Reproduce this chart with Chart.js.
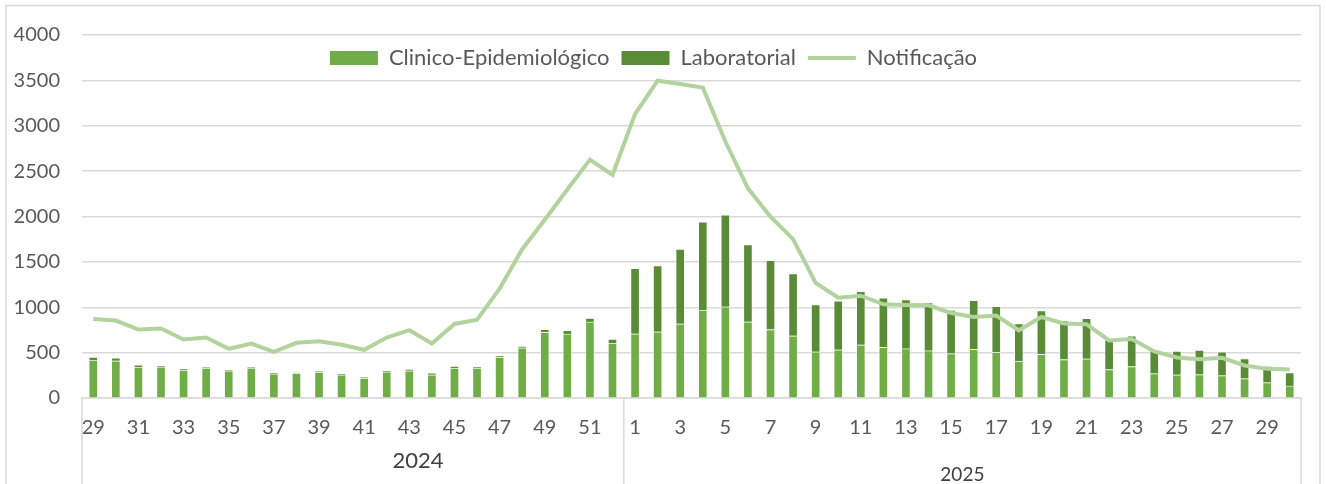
<!DOCTYPE html>
<html>
<head>
<meta charset="utf-8">
<script src="https://cdn.jsdelivr.net/npm/chart.js@4.4.1/dist/chart.umd.min.js"></script>
<style>
  body { margin: 0; background: #fff; }
  #wrap { position: relative; width: 1326px; height: 484px; }
</style>
</head>
<body>
<div id="wrap"><canvas id="grafico"></canvas></div>
<script>
// semanas epidemiologicas: 2024 (29 a 52) e 2025 (1 a 30)
const semanas = [29, 30, 31, 32, 33, 34, 35, 36, 37, 38, 39, 40, 41, 42, 43, 44, 45, 46, 47, 48, 49, 50, 51, 52,
  1, 2, 3, 4, 5, 6, 7, 8, 9, 10, 11, 12, 13, 14, 15, 16, 17, 18, 19, 20, 21, 22, 23, 24, 25, 26, 27, 28, 29, 30];
const anos = ['2024', '2025'];

// casos confirmados por criterio
const clinico = [417, 410, 340, 344, 307, 329, 300, 326, 267, 271, 282, 256, 220, 289, 300, 256, 329, 329, 447, 553, 725, 706, 838, 604,
  708, 730, 818, 965, 1006, 840, 755, 685, 510, 532, 587, 559, 544, 522, 489, 537, 504, 408, 482, 424, 432, 314, 347, 269, 255, 258, 247, 214, 170, 133];
const laboratorial = [33, 33, 26, 11, 11, 8, 7, 11, 11, 7, 14, 8, 7, 11, 18, 19, 22, 11, 18, 18, 33, 41, 44, 46,
  722, 729, 822, 977, 1013, 851, 763, 686, 519, 538, 589, 544, 540, 529, 481, 540, 507, 412, 481, 429, 446, 324, 339, 262, 262, 270, 262, 221, 181, 147];

// casos notificados
const notificacao = [870, 853, 754, 765, 644, 666, 542, 600, 509, 608, 626, 586, 531, 666, 747, 600, 816, 864, 1204, 1640, 1965, 2297, 2627, 2458,
  3129, 3497, 3460, 3420, 2826, 2310, 1997, 1750, 1268, 1106, 1127, 1033, 1025, 1022, 937, 893, 908, 746, 893, 822, 812, 635, 649, 513, 446, 428, 443, 358, 321, 314];

const yMax = 4000;
const yStep = 500;

const fonte = 'Lato';
const cinza = '#595959';

// a legenda fica por cima da area do grafico (como no Excel):
// ocupa altura zero no layout e recupera a altura real depois
const legendaSobre = {
  id: 'legendaSobre',
  beforeLayout(chart) {
    const lg = chart.legend;
    if (lg && !lg._fitOriginal) {
      lg._fitOriginal = lg.fit;
      lg.fit = function () {
        this._fitOriginal();
        this._alturaReal = this.height;
        this.height = 0;
      };
    }
  },
  afterLayout(chart) {
    const lg = chart.legend;
    if (lg && lg._alturaReal) {
      lg.height = lg._alturaReal;
      lg.bottom = lg.top + lg.height;
    }
  }
};

// linhas que separam os anos no eixo x, rotulos dos anos e moldura
const grupos = {
  id: 'grupos',
  afterDraw(chart) {
    const { ctx, chartArea, scales: { x } } = chart;
    const inicio2025 = semanas.indexOf(1);
    const meio = (x.getPixelForValue(inicio2025 - 1) + x.getPixelForValue(inicio2025)) / 2;
    ctx.save();
    ctx.strokeStyle = '#d9d9d9';
    ctx.lineWidth = 1.5;
    [chartArea.left, meio, chartArea.right].forEach(px => {
      ctx.beginPath();
      ctx.moveTo(px, chartArea.bottom);
      ctx.lineTo(px, chart.height);
      ctx.stroke();
    });
    ctx.strokeRect(6, 5.5, 1314, chart.height);

    ctx.fillStyle = '#404040';
    ctx.textAlign = 'center';
    ctx.textBaseline = 'middle';
    ctx.font = '22px ' + fonte;
    ctx.fillText(anos[0], chartArea.left + (meio - chartArea.left) * 0.62, 461);
    ctx.font = '19px ' + fonte;
    ctx.fillText(anos[1], (meio + chartArea.right) / 2, 475);
    ctx.restore();
  }
};

new Chart(document.getElementById('grafico'), {
  data: {
    labels: semanas,
    datasets: [
      {
        type: 'bar',
        label: 'Clinico-Epidemiológico',
        data: clinico,
        backgroundColor: '#70ad47',
        borderColor: 'rgba(255,255,255,0.45)',
        borderWidth: 1,
        barThickness: 9,
        stack: 'casos',
        order: 1
      },
      {
        type: 'bar',
        label: 'Laboratorial',
        data: laboratorial,
        backgroundColor: '#5a8b37',
        borderColor: 'rgba(255,255,255,0.45)',
        borderWidth: 1,
        barThickness: 9,
        stack: 'casos',
        order: 1
      },
      {
        type: 'line',
        label: 'Notificação',
        data: notificacao,
        borderColor: '#b2d39d',
        backgroundColor: '#b2d39d',
        borderWidth: 4,
        pointRadius: 0,
        tension: 0,
        stack: 'notif',
        order: 0
      }
    ]
  },
  options: {
    responsive: true,
    maintainAspectRatio: false,
    animation: false,
    layout: { padding: { left: 6, right: 25, top: 35, bottom: 0 } },
    plugins: {
      tooltip: { enabled: false },
      legend: {
        position: 'top',
        align: 'center',
        labels: {
          usePointStyle: true,
          pointStyleWidth: 48,
          boxHeight: 14,
          padding: 12,
          color: cinza,
          font: { family: fonte, size: 22 },
          generateLabels(chart) {
            return chart.data.datasets.map((ds, i) => ({
              text: ds.label,
              fillStyle: ds.backgroundColor,
              strokeStyle: ds.type === 'line' ? ds.borderColor : ds.backgroundColor,
              lineWidth: ds.type === 'line' ? 4 : 0,
              pointStyle: ds.type === 'line' ? 'line' : 'rect',
              fontColor: cinza,
              hidden: false,
              datasetIndex: i
            }));
          }
        }
      }
    },
    scales: {
      x: {
        stacked: true,
        grid: { display: false, drawTicks: false },
        border: { color: '#d9d9d9', width: 1.5 },
        ticks: {
          autoSkip: false,
          maxRotation: 0,
          padding: 18,
          color: cinza,
          font: { family: fonte, size: 20 },
          callback: (v, i) => (i % 2 === 0 ? semanas[i] : '')
        },
        afterFit: s => { s.height = 86; }
      },
      y: {
        stacked: true,
        min: 0,
        max: yMax,
        grid: { color: '#d9d9d9', lineWidth: 1.5, drawTicks: false },
        border: { display: false },
        ticks: {
          stepSize: yStep,
          padding: 22,
          color: cinza,
          font: { family: fonte, size: 20 },
          callback: v => v
        },
        afterFit: s => { s.width = 76; }
      }
    }
  },
  plugins: [legendaSobre, grupos]
});
</script>
</body>
</html>
